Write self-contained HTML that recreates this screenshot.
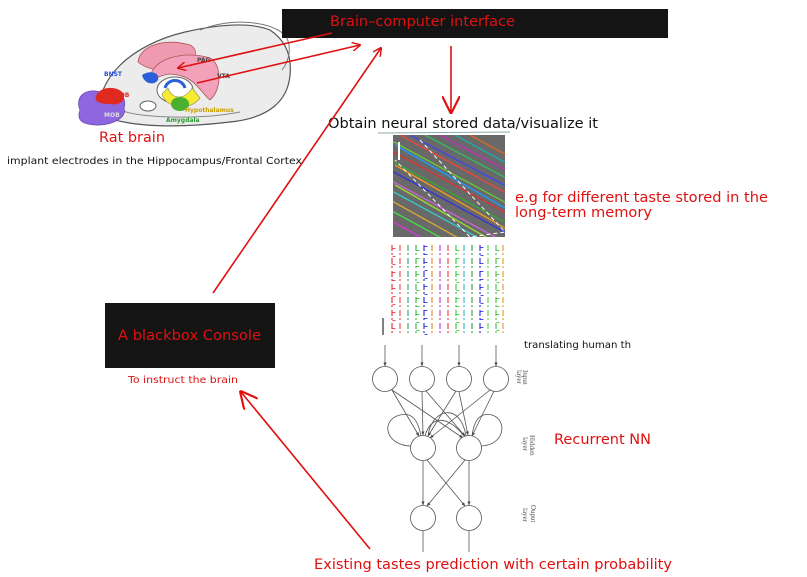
<!DOCTYPE html>
<html><head><meta charset="utf-8"><style>
body{margin:0;background:#fff;}
svg{display:block;font-family:"DejaVu Sans","Liberation Sans",sans-serif;}
</style></head><body>
<svg width="807" height="577" viewBox="0 0 807 577" xmlns="http://www.w3.org/2000/svg">
<defs>
<marker id="ah" viewBox="0 0 10 10" refX="9" refY="5" markerWidth="9" markerHeight="9" orient="auto" markerUnits="userSpaceOnUse"><path d="M0,0 L10,5 L0,10" fill="none" stroke="#e01010" stroke-width="1.6"/></marker>
<marker id="ah2" viewBox="0 0 10 10" refX="9" refY="5" markerWidth="18" markerHeight="18" orient="auto" markerUnits="userSpaceOnUse"><path d="M0,0 L10,5 L0,10" fill="none" stroke="#e01010" stroke-width="1.2"/></marker>
<marker id="sm" viewBox="0 0 10 10" refX="9" refY="5" markerWidth="5" markerHeight="5" orient="auto"><path d="M0,1 L10,5 L0,9z" fill="#444"/></marker>
<clipPath id="mc"><rect x="393" y="135" width="112" height="102"/></clipPath>
</defs>

<!-- Brain illustration -->
<g>
<path d="M100,115 C95,80 130,45 185,32 C220,24 250,22 270,30 C285,40 292,55 290,75 C288,100 270,118 230,122 C180,128 130,128 100,115 Z" fill="#ececec" stroke="#555" stroke-width="1.2"/>
<path d="M200,30 C230,18 268,20 285,35 C292,45 290,60 282,70" fill="none" stroke="#777" stroke-width="1"/>
<path d="M120,110 C140,118 200,120 240,112" fill="none" stroke="#888" stroke-width="1"/>
<path d="M138,62 C140,45 165,38 190,45 C200,50 195,62 185,66 C170,72 150,72 138,62Z" fill="#ef9ab0" stroke="#a55" stroke-width="0.8"/>
<path d="M150,80 C150,58 185,50 210,58 C222,64 222,90 210,100 C200,92 195,75 170,74 C160,75 152,80 150,80Z" fill="#f3a0bb" stroke="#a55" stroke-width="0.8"/>
<ellipse cx="175" cy="90" rx="18" ry="13" fill="#fff" stroke="#666"/>
<path d="M162,94 C165,108 190,112 200,98 L192,88 C185,100 172,100 168,88Z" fill="#f5ec30" stroke="#996" stroke-width="0.7"/>
<ellipse cx="180" cy="104" rx="9" ry="7" fill="#4ab030"/>
<path d="M142,75 C150,70 160,72 158,80 C154,86 144,84 142,75Z" fill="#2a5fd8"/>
<path d="M165,88 C168,78 182,78 185,88" fill="none" stroke="#2a5fd8" stroke-width="3"/>
<ellipse cx="148" cy="106" rx="8" ry="5" fill="#fff" stroke="#666"/>
<path d="M80,110 C74,95 88,88 100,92 C115,88 128,95 124,108 C128,120 105,128 88,124 C78,122 78,116 80,110Z" fill="#8e66e0" stroke="#6a4bb0" stroke-width="0.8"/>
<path d="M96,96 C100,86 116,86 122,92 C128,100 120,106 110,104 C100,104 94,102 96,96Z" fill="#e02a20"/>
<text x="104" y="76" font-size="6" fill="#2a4fd8" font-weight="bold">BNST</text>
<text x="115" y="97" font-size="6" fill="#e02a20" font-weight="bold">AOB</text>
<text x="104" y="117" font-size="6" fill="#ddd" font-weight="bold">MOB</text>
<text x="197" y="62" font-size="6" fill="#444" font-weight="bold">PAG</text>
<text x="217" y="78" font-size="6" fill="#444" font-weight="bold">VTA</text>
<text x="185" y="112" font-size="6" fill="#c8a000" font-weight="bold">Hypothalamus</text>
<text x="166" y="122" font-size="6" fill="#2a9a30" font-weight="bold">Amygdala</text>
</g>
<text x="99" y="142" font-size="14" fill="#e01010" textLength="66" lengthAdjust="spacingAndGlyphs">Rat brain</text>
<text x="7" y="164" font-size="10" fill="#111" textLength="295" lengthAdjust="spacingAndGlyphs">implant electrodes in the Hippocampus/Frontal Cortex</text>

<!-- BCI bar -->
<rect x="282" y="9" width="386" height="29" fill="#141414"/>
<text x="330" y="26" font-size="14" fill="#e01010" textLength="185" lengthAdjust="spacingAndGlyphs">Brain–computer interface</text>

<!-- Console -->
<rect x="105" y="303" width="170" height="65" fill="#141414"/>
<text x="118" y="340" font-size="14" fill="#e01010" textLength="143" lengthAdjust="spacingAndGlyphs">A blackbox Console</text>
<text x="128" y="383" font-size="10" fill="#e01010" textLength="110" lengthAdjust="spacingAndGlyphs">To instruct the brain</text>

<!-- Obtain text -->
<text x="328" y="128" font-size="14" fill="#111" textLength="270" lengthAdjust="spacingAndGlyphs">Obtain neural stored data/visualize it</text>
<line x1="378" y1="133" x2="510" y2="132" stroke="#8aa" stroke-width="1"/>

<!-- microscope image -->
<rect x="393" y="135" width="112" height="102" fill="#5a5a5a"/>
<g clip-path="url(#mc)" stroke-width="1.3" fill="none">
<rect x="393" y="135" width="112" height="102" fill="#777" opacity="0.5"/>
<path d="M390,150 L510,215" stroke="#d33"/><path d="M390,160 L510,225" stroke="#3a3"/>
<path d="M390,170 L510,235" stroke="#33d"/><path d="M390,180 L510,245" stroke="#c6c"/>
<path d="M390,190 L510,255" stroke="#3cc"/><path d="M390,200 L480,250" stroke="#da3"/>
<path d="M390,140 L510,205" stroke="#6c3"/><path d="M400,135 L510,195" stroke="#e44"/>
<path d="M410,135 L510,188" stroke="#44e"/><path d="M425,135 L510,180" stroke="#3b6"/>
<path d="M440,135 L510,172" stroke="#b3b"/><path d="M455,135 L510,165" stroke="#2aa"/>
<path d="M470,135 L510,157" stroke="#d62"/><path d="M390,210 L460,248" stroke="#4d4"/>
<path d="M390,220 L440,248" stroke="#d3d"/><path d="M395,145 L505,208" stroke="#29f"/>
<path d="M395,165 L505,228" stroke="#e92"/><path d="M395,185 L505,248" stroke="#9d3"/>
<path d="M420,140 L505,232 L470,237 L395,160" stroke="#fff" stroke-dasharray="4,3" stroke-width="1"/>
<line x1="399" y1="142" x2="399" y2="160" stroke="#fff" stroke-width="2"/>
</g>

<!-- traces -->
<g fill="none" stroke-width="1.1" stroke-dasharray="6,2,2,3">
<path d="M392,245 L392,335" stroke="#e22"/><path d="M400,245 L400,335" stroke="#e44"/>
<path d="M408,245 L408,335" stroke="#396"/><path d="M416,245 L416,335" stroke="#3b3"/>
<path d="M424,245 L424,335" stroke="#22d"/><path d="M432,245 L432,335" stroke="#d82"/>
<path d="M440,245 L440,335" stroke="#b3c"/><path d="M448,245 L448,335" stroke="#e33"/>
<path d="M456,245 L456,335" stroke="#3c3"/><path d="M464,245 L464,335" stroke="#2bb"/>
<path d="M472,245 L472,335" stroke="#393"/><path d="M480,245 L480,335" stroke="#22d"/>
<path d="M488,245 L488,335" stroke="#4d4"/><path d="M496,245 L496,335" stroke="#4b4"/>
<path d="M503,245 L503,335" stroke="#d92"/>
</g>
<g fill="none" stroke-width="3" stroke-dasharray="1,7" opacity="0.8">
<path d="M394,248 L394,335" stroke="#e22"/><path d="M418,250 L418,335" stroke="#3b3"/>
<path d="M426,246 L426,335" stroke="#22d"/><path d="M458,250 L458,335" stroke="#3c3"/>
<path d="M482,247 L482,335" stroke="#22d"/><path d="M498,250 L498,335" stroke="#4b4"/>
</g>
<line x1="383" y1="318" x2="383" y2="335" stroke="#000" stroke-width="1"/>

<text x="524" y="348" font-size="10" fill="#111" textLength="107" lengthAdjust="spacingAndGlyphs">translating human th</text>

<text x="515" y="202" font-size="14" fill="#e01010" textLength="253" lengthAdjust="spacingAndGlyphs">e.g for different taste stored in the</text>
<text x="515" y="217" font-size="14" fill="#e01010" textLength="137" lengthAdjust="spacingAndGlyphs">long-term memory</text>

<!-- Neural network -->
<g stroke="#555" stroke-width="0.8" fill="none">
<line x1="385" y1="345" x2="385" y2="366" marker-end="url(#sm)"/>
<line x1="422" y1="345" x2="422" y2="366" marker-end="url(#sm)"/>
<line x1="459" y1="345" x2="459" y2="366" marker-end="url(#sm)"/>
<line x1="496" y1="345" x2="496" y2="366" marker-end="url(#sm)"/>
<circle cx="385" cy="379" r="12.5" fill="#fff"/><circle cx="422" cy="379" r="12.5" fill="#fff"/>
<circle cx="459" cy="379" r="12.5" fill="#fff"/><circle cx="496" cy="379" r="12.5" fill="#fff"/>
<line x1="392" y1="390" x2="419" y2="436" marker-end="url(#sm)"/>
<line x1="392" y1="390" x2="463" y2="438" marker-end="url(#sm)"/>
<line x1="422" y1="392" x2="423" y2="435" marker-end="url(#sm)"/>
<line x1="426" y1="391" x2="465" y2="436" marker-end="url(#sm)"/>
<line x1="456" y1="391" x2="428" y2="436" marker-end="url(#sm)"/>
<line x1="459" y1="392" x2="468" y2="435" marker-end="url(#sm)"/>
<line x1="490" y1="390" x2="430" y2="438" marker-end="url(#sm)"/>
<line x1="494" y1="391" x2="472" y2="436" marker-end="url(#sm)"/>
<path d="M412,446 C385,446 380,420 400,415 C412,412 418,420 421,436"/>
<path d="M480,446 C505,446 508,420 492,415 C480,412 474,420 472,436"/>
<path d="M428,437 C430,410 460,400 466,436"/>
<path d="M425,436 C430,418 445,412 465,437"/>
<circle cx="423" cy="448" r="12.5" fill="#fff"/><circle cx="469" cy="448" r="12.5" fill="#fff"/>
<line x1="423" y1="461" x2="423" y2="505" marker-end="url(#sm)"/>
<line x1="469" y1="461" x2="469" y2="505" marker-end="url(#sm)"/>
<line x1="427" y1="460" x2="465" y2="506" marker-end="url(#sm)"/>
<line x1="465" y1="460" x2="427" y2="506" marker-end="url(#sm)"/>
<circle cx="423" cy="518" r="12.5" fill="#fff"/><circle cx="469" cy="518" r="12.5" fill="#fff"/>
<line x1="423" y1="531" x2="423" y2="552"/><line x1="469" y1="531" x2="469" y2="552"/>
</g>
<g font-family="Liberation Serif,serif" font-size="7" fill="#555">
<text transform="translate(523,370) rotate(90)">Input</text><text transform="translate(517,370) rotate(90)">layer</text>
<text transform="translate(530,435) rotate(90)">Hidden</text><text transform="translate(523,437) rotate(90)">layer</text>
<text transform="translate(531,505) rotate(90)">Ouput</text><text transform="translate(523,508) rotate(90)">layer</text>
</g>
<text x="554" y="444" font-size="14" fill="#e01010" textLength="97" lengthAdjust="spacingAndGlyphs">Recurrent NN</text>
<text x="314" y="569" font-size="14" fill="#e01010" textLength="358" lengthAdjust="spacingAndGlyphs">Existing tastes prediction with certain probability</text>

<!-- red arrows -->
<g stroke="#e01010" stroke-width="1.6" fill="none">
<line x1="332" y1="33" x2="178" y2="68" marker-end="url(#ah)"/>
<line x1="197" y1="83" x2="360" y2="45" marker-end="url(#ah)"/>
<line x1="213" y1="293" x2="381" y2="48" marker-end="url(#ah)"/>
<line x1="451" y1="46" x2="451" y2="112" marker-end="url(#ah2)"/>
<line x1="370" y1="549" x2="241" y2="392" marker-end="url(#ah2)"/>
</g>
</svg>
</body></html>
